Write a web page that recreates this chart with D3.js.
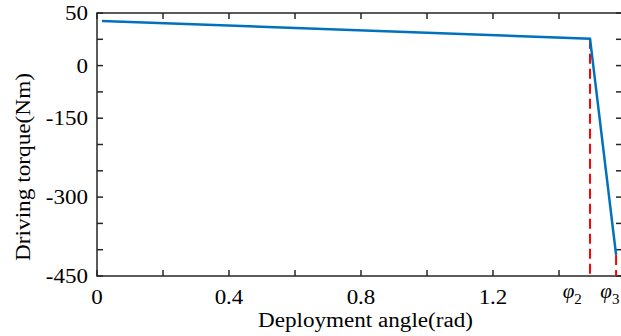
<!DOCTYPE html>
<html><head><meta charset="utf-8">
<script src="https://cdn.jsdelivr.net/npm/d3@7/dist/d3.min.js"></script>
<style>body{margin:0;background:#fff}svg{display:block}text{font-family:"Liberation Serif","Times New Roman",serif;fill:#000}</style>
</head><body><div id="chart"></div>
<script>
// Data
const torqueX = [0.015, 1.494, 1.573];          // deployment angle (rad)
const torqueY = [42.5, 25.6, -410];              // driving torque (Nm)
const phiMarks = [1.494, 1.573];                 // φ2, φ3
const phiLabels = ["2", "3"];
const phiLabelX = [1.44, 1.554];
const xTicks = [0, 0.2, 0.4, 0.6, 0.8, 1.0, 1.2, 1.4];
const xTickLabels = ["0", "", "0.4", "", "0.8", "", "1.2", ""];
const yLabelVals = [50, 0, -150, -300, -450];
const yLabelIdx = [0, 2, 4, 7, 10];
const yTicks = [50, 25, 0, -75, -150, -200, -250, -300, -350, -400, -450];

const W = 621, H = 336;
const m = {l: 97, t: 13, r: 622, b: 276};
const svg = d3.select("#chart").append("svg").attr("width", W).attr("height", H);

const x = d3.scaleLinear().domain([0, (m.r - m.l) / 330]).range([m.l, m.r]);
const step = (m.b - m.t) / 10;
const y = d3.scaleLinear().domain(yLabelVals).range(yLabelIdx.map(i => m.t + i * step));

const axisCol = "#262626";
const tl = 6;
const sx = 1.15;
// frame
svg.append("rect").attr("x", m.l).attr("y", m.t).attr("width", m.r - m.l).attr("height", m.b - m.t)
  .attr("fill", "none").attr("stroke", axisCol).attr("stroke-width", 1.5);

const g = svg.append("g");
xTicks.forEach(v => {
  g.append("line").attr("x1", x(v)).attr("x2", x(v)).attr("y1", m.b).attr("y2", m.b - tl).attr("stroke", axisCol).attr("stroke-width", 1.5);
  g.append("line").attr("x1", x(v)).attr("x2", x(v)).attr("y1", m.t).attr("y2", m.t + tl).attr("stroke", axisCol).attr("stroke-width", 1.5);
});
yTicks.forEach(v => {
  g.append("line").attr("x1", m.l).attr("x2", m.l + tl).attr("y1", y(v)).attr("y2", y(v)).attr("stroke", axisCol).attr("stroke-width", 1.5);
  g.append("line").attr("x1", m.r).attr("x2", m.r - tl).attr("y1", y(v)).attr("y2", y(v)).attr("stroke", axisCol).attr("stroke-width", 1.5);
});

// x tick labels
xTicks.forEach((v, i) => {
  if (!xTickLabels[i]) return;
  svg.append("text").attr("transform", `translate(${x(v)},303.5) scale(${sx},1)`).attr("text-anchor", "middle")
    .attr("font-size", 20).text(xTickLabels[i]);
});
// phi labels
phiLabelX.forEach((v, i) => {
  const t = svg.append("text").attr("transform", `translate(${x(v)},298)`).attr("text-anchor", "middle").attr("font-size", 21);
  t.append("tspan").attr("font-style", "italic").text("φ");
  t.append("tspan").attr("font-size", 15).attr("dy", 6).text(phiLabels[i]);
});
// y tick labels
yLabelVals.forEach(v => {
  svg.append("text").attr("transform", `translate(88,${y(v)}) scale(${sx},1)`).attr("dy", "0.35em").attr("text-anchor", "end")
    .attr("font-size", 20).text(v);
});

// axis titles
svg.append("text").attr("x", 365.5).attr("y", 327).attr("text-anchor", "middle")
  .attr("font-size", 20).attr("textLength", 215).attr("lengthAdjust", "spacingAndGlyphs").text("Deployment angle(rad)");
svg.append("text").attr("transform", `translate(29.5,167) rotate(-90)`).attr("text-anchor", "middle")
  .attr("font-size", 21).attr("textLength", 188).attr("lengthAdjust", "spacingAndGlyphs").text("Driving torque(Nm)");

// red dashed markers
svg.append("line").attr("x1", x(phiMarks[0])).attr("x2", x(phiMarks[0])).attr("y1", y(torqueY[1])).attr("y2", m.b)
  .attr("stroke", "#ff0000").attr("stroke-width", 2).attr("stroke-dasharray", "10,5");
svg.append("line").attr("x1", x(phiMarks[1])).attr("x2", x(phiMarks[1])).attr("y1", y(torqueY[2])).attr("y2", m.b)
  .attr("stroke", "#ff0000").attr("stroke-width", 2).attr("stroke-dasharray", "10,5");

// torque line
const pts = torqueX.map((v, i) => [v, torqueY[i]]);
svg.append("path").datum(pts).attr("fill", "none").attr("stroke", "#0072BD").attr("stroke-width", 2.5)
  .attr("d", d3.line().x(d => x(d[0])).y(d => y(d[1])));
</script></body></html>
